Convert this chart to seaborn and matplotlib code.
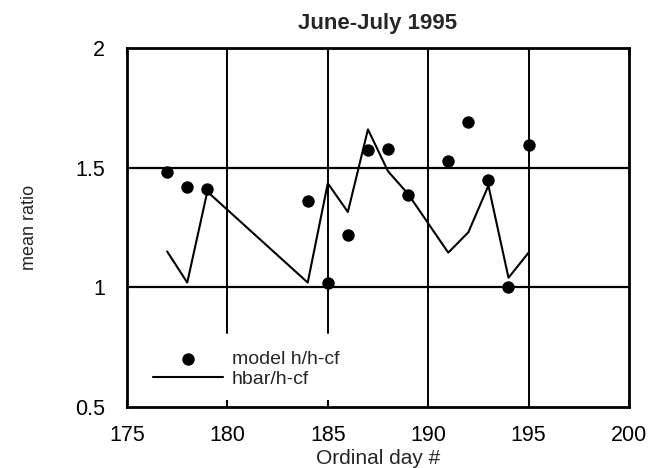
import matplotlib
matplotlib.use("Agg")
import matplotlib.pyplot as plt
import seaborn as sns
import pandas as pd

days = [177, 178, 179, 184, 185, 186, 187, 188, 189, 191, 192, 193, 194, 195]
model_ratio = [1.48, 1.42, 1.41, 1.36, 1.02, 1.22, 1.575, 1.58, 1.385, 1.53, 1.69, 1.45, 1.00, 1.595]
hbar_ratio = [1.15, 1.02, 1.40, 1.02, 1.435, 1.315, 1.66, 1.485, 1.39, 1.145, 1.23, 1.425, 1.04, 1.145]
x_ticks = [175, 180, 185, 190, 195, 200]
y_ticks = [0.5, 1, 1.5, 2]
y_tick_labels = ["0.5", "1", "1.5", "2"]

df = pd.DataFrame({"day": days, "model": model_ratio, "hbar": hbar_ratio})

sns.set_style("white")
plt.rcParams["font.family"] = ["Liberation Sans", "DejaVu Sans"]

fig = plt.figure(figsize=(6.56, 4.68), dpi=100)
ax = fig.add_axes([0.1936, 0.1303, 0.7652, 0.7671])

# grid lines
for yv in [1.0, 1.5]:
    ax.axhline(yv, color="black", lw=1.6, zorder=1)
ax.axvline(180, ymin=(0.81 - 0.5) / 1.5, ymax=1, color="black", lw=1.4, zorder=1)
ax.axvline(185, ymin=(0.81 - 0.5) / 1.5, ymax=1, color="black", lw=1.4, zorder=1)
ax.axvline(190, color="black", lw=1.4, zorder=1)
ax.axvline(195, color="black", lw=1.4, zorder=1)

sns.scatterplot(data=df, x="day", y="model", ax=ax, color="black", s=80,
                edgecolor="black", linewidth=0, label="model h/h-cf", zorder=3)
sns.lineplot(data=df, x="day", y="hbar", ax=ax, color="black", lw=1.5,
             label="hbar/h-cf", zorder=2)

ax.set_xlim(175, 200)
ax.set_ylim(0.5, 2)
ax.set_xticks(x_ticks)
ax.set_yticks(y_ticks)
ax.set_yticklabels(y_tick_labels)
ax.tick_params(axis="both", labelsize=15.5, direction="in", length=5, width=1.5,
               top=True, bottom=True, left=False, right=False, colors="black")
ax.tick_params(axis="x", pad=13)
ax.tick_params(axis="y", pad=16)
for s in ax.spines.values():
    s.set_linewidth(2)
    s.set_color("black")

ax.set_xlabel("Ordinal day #", fontsize=15)
ax.xaxis.set_label_coords(0.5, -0.117)
ax.set_ylabel("mean ratio", fontsize=13)
ax.yaxis.set_label_coords(-0.178, 0.5)
ax.set_title("June-July 1995", fontsize=16, fontweight="bold", pad=14)

leg = ax.legend(loc="lower left", bbox_to_anchor=(0.017, 0.005), frameon=False,
                fontsize=14, handlelength=3.6, handletextpad=0.45,
                labelspacing=0.1)

fig.savefig("out.png", dpi=100)
